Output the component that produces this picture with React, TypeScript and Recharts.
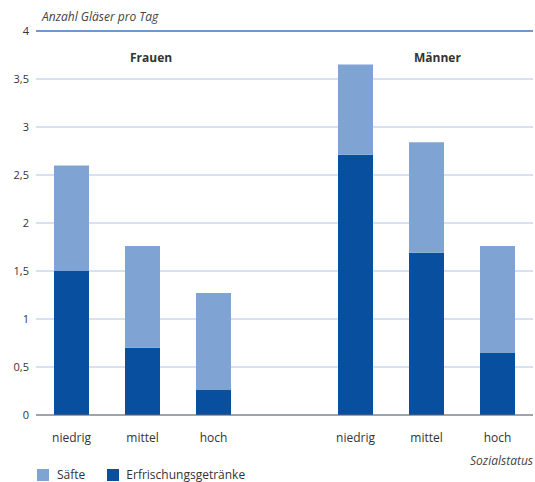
import { BarChart, Bar, XAxis, YAxis, CartesianGrid, ReferenceLine } from "recharts";

// Anzahl Gläser pro Tag nach Geschlecht und Sozialstatus
const categories = ["niedrig", "mittel", "hoch", "", "niedrig", "mittel", "hoch"];
const erfrischung = [1.5, 0.7, 0.26, null, 2.71, 1.69, 0.65];
const saefte = [1.1, 1.06, 1.01, null, 0.94, 1.15, 1.11];
const yTicks = [0, 0.5, 1, 1.5, 2, 2.5, 3, 3.5, 4];

const LIGHT = "#7fa3d3";
const DARK = "#08509f";
const FONT = "'Open Sans', 'DejaVu Sans', sans-serif";

const data = categories.map((label, i) => ({
  key: `c${i}`,
  label,
  erfrischung: erfrischung[i],
  saefte: saefte[i],
}));

export default function App() {
  return (
    <div style={{ position: "relative", width: 535, height: 482, fontFamily: FONT, color: "#333" }}>
      <style>{`body{margin:0}`}</style>
      <BarChart
        width={535}
        height={482}
        data={data}
        margin={{ top: 31, right: 2, bottom: 0, left: 0 }}
        barSize={35}
      >
        <CartesianGrid stroke="#c9d9ef" strokeWidth={1.5} vertical={false} />
        <YAxis
          domain={[0, 4]}
          ticks={yTicks}
          interval={0}
          width={36}
          axisLine={false}
          tickLine={false}
          tick={{ fontSize: 11, fill: "#333", fontFamily: FONT, dx: 1 }}
          tickFormatter={(v) => String(v).replace(".", ",")}
        />
        <XAxis
          dataKey="key"
          height={67}
          tickLine={false}
          axisLine={{ stroke: "#666", strokeWidth: 1.2 }}
          tick={{ fontSize: 12, fill: "#333", fontFamily: FONT }}
          tickFormatter={(_, i) => categories[i]}
          interval={0}
          dy={10}
        />
        <ReferenceLine y={4} stroke="#4a80c4" strokeWidth={1.5} />
        <Bar dataKey="erfrischung" stackId="a" fill={DARK} isAnimationActive={false} />
        <Bar dataKey="saefte" stackId="a" fill={LIGHT} isAnimationActive={false} />
      </BarChart>

      <div style={{ position: "absolute", left: 42, top: 8, fontSize: 12, fontStyle: "italic", color: "#444" }}>
        Anzahl Gläser pro Tag
      </div>
      <div style={{ position: "absolute", left: 130, top: 49, fontSize: 12, fontWeight: 700 }}>Frauen</div>
      <div style={{ position: "absolute", left: 414, top: 49, fontSize: 12, fontWeight: 700 }}>Männer</div>
      <div style={{ position: "absolute", right: 2, top: 452, fontSize: 12, fontStyle: "italic", color: "#444" }}>
        Sozialstatus
      </div>
      <div style={{ position: "absolute", left: 37, top: 466, display: "flex", alignItems: "center", fontSize: 12 }}>
        <span style={{ width: 12, height: 12, background: LIGHT, display: "inline-block", marginRight: 8 }} />
        <span style={{ marginRight: 22 }}>Säfte</span>
        <span style={{ width: 12, height: 12, background: DARK, display: "inline-block", marginRight: 7 }} />
        <span>Erfrischungsgetränke</span>
      </div>
    </div>
  );
}
